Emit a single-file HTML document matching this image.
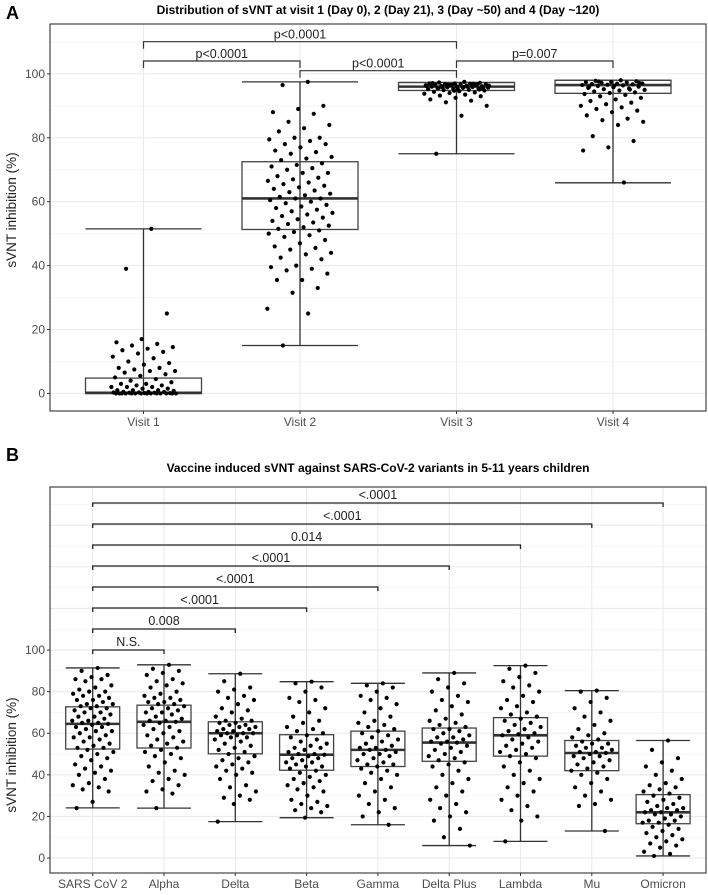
<!DOCTYPE html>
<html><head><meta charset="utf-8"><style>
body{margin:0;background:#fff}
svg{display:block;font-family:"Liberation Sans",Arial,sans-serif}
</style></head><body>
<svg id="chart" width="708" height="895" viewBox="0 0 708 895" xmlns="http://www.w3.org/2000/svg">
<text x="6" y="19" font-size="18" font-weight="bold">A</text>
<text x="378" y="14" font-size="12" font-weight="bold" text-anchor="middle">Distribution of sVNT at visit 1 (Day 0), 2 (Day 21), 3 (Day ~50) and 4 (Day ~120)</text>
<text x="6" y="461" font-size="18" font-weight="bold">B</text>
<text x="378" y="472" font-size="12" font-weight="bold" text-anchor="middle">Vaccine induced sVNT against SARS-CoV-2 variants in 5-11 years children</text>
<text transform="translate(16,210) rotate(-90)" font-size="13.5" fill="#222" text-anchor="middle">sVNT inhibition (%)</text>
<text transform="translate(16,755) rotate(-90)" font-size="13.5" fill="#222" text-anchor="middle">sVNT inhibition (%)</text>
<g id="pa"></g>
<g id="pb"></g>
</svg>
<script>
const catsA=["Visit 1","Visit 2","Visit 3","Visit 4"];
const ticksY=[0,20,40,60,80,100];
const statsA=[[0,0,0.2,4.8,51.5],[15,51.3,61,72.5,97.5],[75,94.8,96,97.3,97.3],[65.9,93.9,96.5,98,98]];
const ptsA=[
[51.5,39,25,17,16,15.5,15,14.5,14,13.5,13,12.5,11.5,11,10,9.5,9,8,8,7.5,7,7,6.5,6,5.5,5,4.5,4,3.5,3,3,2.5,2.5,2,2,2,1.5,1.5,1,1,1,0.8,0.5,0.5,0.5,0.3,0.3,0.2,0.2,0.1,0.1,0,0,0,0,0,0,0,0,0,0,0,0,0,0],
[97.5,96.5,90,89,88,87.5,85,84,83,82,80,80,79.5,79,78,78,77,76,75.5,75,74,73.5,73,72,71.5,71,70.5,70,69,69,68,67.5,67,66.5,66,65.5,65,64.5,64,63.5,63,62.5,62,61.5,61,61,60.5,60,59.5,59,58.5,58,57.5,57,56.5,56,55.5,55,54.5,54,53.5,53,52.5,52,51.5,51,50.5,50,49.5,49,48,47,46,45.5,45,44,43.5,42.5,42,40,39.5,39,38.5,37.5,35.5,35.5,33,31.5,26.5,25,15],
[97.5,97.3,97.2,97,97,96.9,96.8,96.8,96.7,96.6,96.5,96.5,96.4,96.3,96.2,96.1,96,96,95.9,95.8,95.7,95.6,95.5,95.4,95.3,95.2,95,94.9,94.8,94.6,94.4,94.2,94,93.8,93.5,93.2,93,92.5,92,91.6,91.1,90,86.9,75,96.8,96.5,96.2,96,95.8,95.5,95.2,97.1,96.9,96.6,96.3,95.9,95.6,95.1,94.7],
[98,97.8,97.7,97.5,97.4,97.3,97.2,97,96.9,96.8,96.7,96.6,96.5,96.4,96.2,96,95.8,95.6,95.4,95.2,95,94.8,94.5,94.2,94,93.7,93.4,93,92.5,92,91.5,91,90.5,90,89.5,89,88.5,88,87,86,85.5,85,84,80.5,79,77,76,66,97.6,97.1,96.3,95.9,95.1]];
const bracketsA=[[0,1,"p<0.0001"],[1,2,"p<0.0001"],[0,2,"p<0.0001"],[2,3,"p=0.007"]];
const catsB=["SARS CoV 2","Alpha","Delta","Beta","Gamma","Delta Plus","Lambda","Mu","Omicron"];
const statsB=[[24.1,52.4,64.5,72.7,91.4],[24,52.9,65.5,73.5,92.9],[17.5,50.1,60,65.5,88.6],[19.4,42.2,49.7,59.3,84.8],[16,44,52,61,84],[6,46.5,55.5,62.5,89],[8,49,59,67.5,92.5],[13,42,50.5,56.5,80.5],[1,16.5,22,30.5,56.5]];
const ptsB=[
[91.4,90,88,87,86,86,85,83,82,81,80,80,79,78,78,77,76,76,75,74,74,73,73,72,72,71,70,70,69,68,68,67,66,66,65,65,64.5,64,63,63,62,61,61,60,59,58,58,57,56,55,54,53,53,52,51,50,49,48,47,45,44,43,42,41,40,38,36,35,34,33,32,27,24],
[92.9,91,90,89,88,86,85,84,83,82,80,79,78,77,77,76,75,75,74,74,73,72,72,71,70,70,69,68,67,66,66,65.5,65,64,63,62,61,60,59,58,57,56,55,54,53,52,51,50,49,48,46,44,42,41,40,38,37,35,33,32,31,24],
[88.6,85,82,81,80,78,77,76,74,72,71,70,68,67,66,66,65,65,64,64,63,63,62,62,61,61,60,60,60,59,59,58,58,57,56,55,54,53,52,51,50,49,48,47,46,45,44,43,42,41,40,38,35,34,32,30,29,28,26,17.5],
[84.8,84,82,80,77,76,75,72,70,68,66,65,63,62,61,60,59,58,57,56,55,54,53,53,52,51,50,50,49.7,49,48,48,47,46,46,45,44,44,43,42,41,40,39,38,37,36,35,34,33,32,30,28,27,26,25,24,23,22,19.4],
[84,83,82,80,78,77,76,74,72,70,68,66,65,64,63,62,61,60,59,58,57,56,55,54,53,53,52,52,51,50,50,49,48,47,46,45,45,44,43,42,41,40,38,36,34,32,30,28,26,24,22,20,16],
[89,86,84,82,80,78,76,75,73,71,69,67,66,65,64,63,62,62,61,60,59,58,58,57,56,56,55.5,55,54,53,52,51,50,49,48,47,46,45,44,42,40,38,36,34,32,30,28,26,24,22,20,18,14,10,6],
[92.5,91,89,87,85,83,82,80,78,76,75,73,72,70,69,68,67,66,65,64,63,62,61,60,59.5,59,58,57,56,55,54,53,52,51,50,49,48,46,44,42,40,38,36,34,32,30,28,25,23,20,18,8],
[80.5,80,77,75,72,70,68,66,64,62,60,59,58,57,56,55,55,54,53,53,52,51,51,50.5,50,49,49,48,47,46,45,44,43,42,41,40,38,36,34,32,30,28,26,25,13],
[56.5,52,48,46,44,42,40,38,36,35,34,33,32,31,30,29,28,27,26,25,24,24,23,23,22,22,21,21,20,19,18,18,17,17,16,15,14,13,12,11,10,9,8,7,6,5,3,2,1]];
const bracketsB=[[0,1,"N.S."],[0,2,"0.008"],[0,3,"<.0001"],[0,4,"<.0001"],[0,5,"<.0001"],[0,6,"0.014"],[0,7,"<.0001"],[0,8,"<.0001"]];

const NS="http://www.w3.org/2000/svg";
function mk(p,t,a){const e=document.createElementNS(NS,t);for(const k in a)e.setAttribute(k,a[k]);p.appendChild(e);return e;}
function panel(g,cfg){
 const {L,R,T,B,ymin,ymax,x0,dx,cats,stats,pts,bw,jw}=cfg;
 const y=v=>B-(v-ymin)/(ymax-ymin)*(B-T);
 const x=i=>x0+i*dx;
 const bg=mk(g,'rect',{x:L,y:T,width:R-L,height:B-T,fill:'#fff'});
 
 for(let v=10;v<ymax;v+=20){if(v>ymin)mk(g,'line',{x1:L,x2:R,y1:y(v),y2:y(v),stroke:'#f2f2f2','stroke-width':0.6});}
 for(let v=0;v<ymax;v+=20){mk(g,'line',{x1:L,x2:R,y1:y(v),y2:y(v),stroke:'#ebebeb','stroke-width':1.1});}
 cats.forEach((c,i)=>{mk(g,'line',{x1:x(i),x2:x(i),y1:T,y2:B,stroke:'#ebebeb','stroke-width':1.1});});
 ticksY.forEach(v=>{const yy=y(v);
  mk(g,'line',{x1:L-3,x2:L,y1:yy,y2:yy,stroke:'#333'});
  const t=mk(g,'text',{x:L-5,y:yy+4,'font-size':12,fill:'#4d4d4d','text-anchor':'end'});t.textContent=v;
  });
 cats.forEach((c,i)=>{const xx=x(i);
  mk(g,'line',{x1:xx,x2:xx,y1:B,y2:B+3,stroke:'#333'});
  const t=mk(g,'text',{x:xx,y:B+15,'font-size':12,fill:'#4d4d4d','text-anchor':'middle'});t.textContent=c;
  
  const s=stats[i];const bx=mk(g,'g',{});
  
  mk(bx,'line',{x1:xx,x2:xx,y1:y(s[0]),y2:y(s[4]),stroke:'#333','stroke-width':1.3});
  mk(bx,'line',{x1:xx-bw,x2:xx+bw,y1:y(s[0]),y2:y(s[0]),stroke:'#333','stroke-width':1.3});
  mk(bx,'line',{x1:xx-bw,x2:xx+bw,y1:y(s[4]),y2:y(s[4]),stroke:'#333','stroke-width':1.3});
  mk(bx,'rect',{x:xx-bw,y:y(s[3]),width:2*bw,height:Math.max(0.5,y(s[1])-y(s[3])),fill:'none',stroke:'#444','stroke-width':1.3});
  mk(bx,'line',{x1:xx-bw,x2:xx+bw,y1:y(s[2]),y2:y(s[2]),stroke:'#333','stroke-width':2.6});
  pts[i].forEach((v,k)=>{const j=(((k+1)*0.6180339)%1-0.5)*2*jw;
   const d=mk(g,'circle',{cx:xx+j,cy:y(v),r:2.1,fill:'#000'});
   });
 });
 const fr=mk(g,'rect',{x:L,y:T,width:R-L,height:B-T,fill:'none',stroke:'#333','stroke-width':1.1});
 
 return {x,y};
}
const A=panel(document.getElementById('pa'),{L:50,R:706,T:24,B:411,ymin:-5.5,ymax:115.6,x0:143.5,dx:156.5,cats:catsA,stats:statsA,pts:ptsA,bw:58,jw:33});
const gA=document.getElementById('pa');
const bracketYA=[61,70.7,41.7,61];
bracketsA.forEach((b,k)=>{
 const yy=bracketYA[k];
 const g=mk(gA,'g',{});
 const x1=A.x(b[0]),x2=A.x(b[1]);
 mk(g,'path',{d:`M${x1},${yy+7}V${yy}H${x2}V${yy+7}`,fill:'none',stroke:'#333','stroke-width':1.2});
 const t=mk(g,'text',{x:(x1+x2)/2,y:yy-3,'font-size':12.5,fill:'#222','text-anchor':'middle'});t.textContent=b[2];
});
const Bp=panel(document.getElementById('pb'),{L:50,R:706,T:487,B:873,ymin:-7.2,ymax:178.4,x0:92.7,dx:71.3,cats:catsB,stats:statsB,pts:ptsB,bw:27,jw:21});
const gB=document.getElementById('pb');
bracketsB.forEach((b,k)=>{
 const yy=650-k*21;
 const g=mk(gB,'g',{});
 const x1=Bp.x(b[0]),x2=Bp.x(b[1]);
 mk(g,'path',{d:`M${x1},${yy+4}V${yy}H${x2}V${yy+4}`,fill:'none',stroke:'#222','stroke-width':1.3});
 const t=mk(g,'text',{x:(x1+x2)/2,y:yy-4,'font-size':12.5,fill:'#222','text-anchor':'middle'});t.textContent=b[2];
});
</script>
</body></html>
